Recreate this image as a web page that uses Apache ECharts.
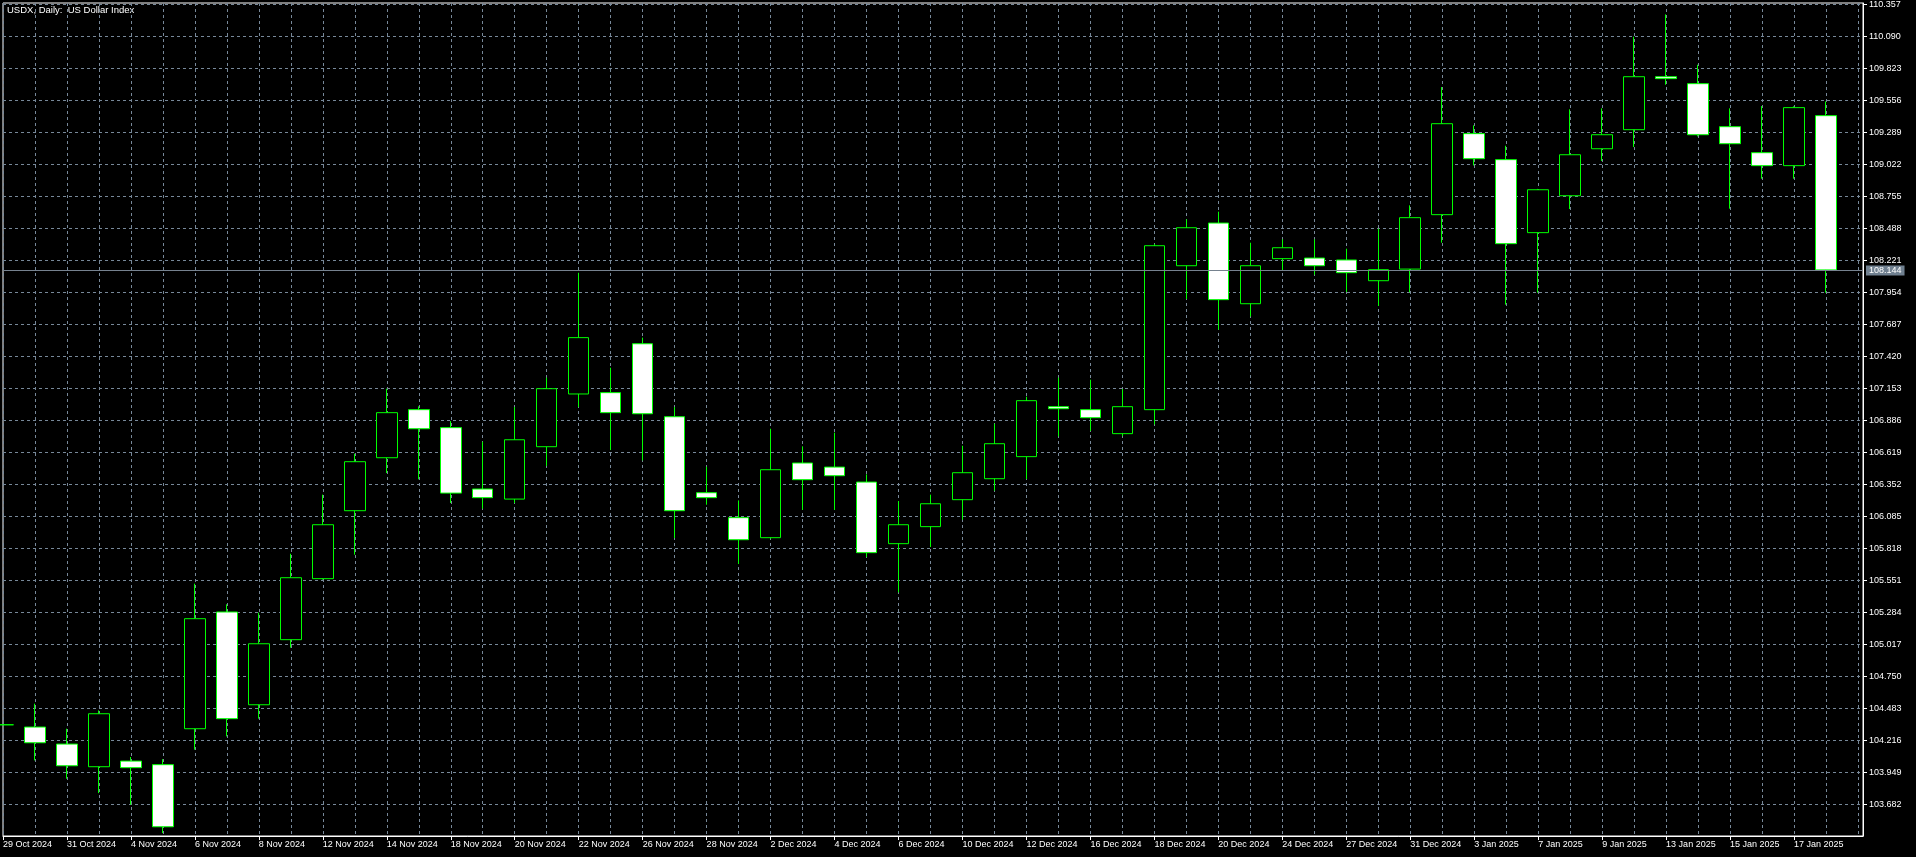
<!DOCTYPE html>
<html><head><meta charset="utf-8">
<script src="https://cdn.jsdelivr.net/npm/echarts@6/dist/echarts.min.js"></script>
<style>html,body{margin:0;padding:0;background:#000;}#c{width:1916px;height:857px;}</style>
</head><body><div id="c"></div>
<script>
const dates = ['29 Oct 2024','30 Oct 2024','31 Oct 2024','1 Nov 2024','4 Nov 2024','5 Nov 2024','6 Nov 2024','7 Nov 2024','8 Nov 2024','11 Nov 2024',
'12 Nov 2024','13 Nov 2024','14 Nov 2024','15 Nov 2024','18 Nov 2024','19 Nov 2024','20 Nov 2024','21 Nov 2024','22 Nov 2024','25 Nov 2024',
'26 Nov 2024','27 Nov 2024','28 Nov 2024','29 Nov 2024','2 Dec 2024','3 Dec 2024','4 Dec 2024','5 Dec 2024','6 Dec 2024','9 Dec 2024',
'10 Dec 2024','11 Dec 2024','12 Dec 2024','13 Dec 2024','16 Dec 2024','17 Dec 2024','18 Dec 2024','19 Dec 2024','20 Dec 2024','23 Dec 2024',
'24 Dec 2024','26 Dec 2024','27 Dec 2024','30 Dec 2024','31 Dec 2024','2 Jan 2025','3 Jan 2025','6 Jan 2025','7 Jan 2025','8 Jan 2025',
'9 Jan 2025','10 Jan 2025','13 Jan 2025','14 Jan 2025','15 Jan 2025','16 Jan 2025','17 Jan 2025','20 Jan 2025'];
const openV = [104.349,104.330,104.188,103.999,104.046,104.016,104.316,105.290,104.516,105.059,
105.568,106.135,106.577,106.978,106.828,106.316,106.232,106.669,107.109,107.120,
107.528,106.919,106.285,106.077,105.910,106.533,106.499,106.374,105.860,106.002,
106.227,106.402,106.586,107.003,106.978,106.778,106.978,108.179,108.535,107.862,
108.238,108.243,108.227,108.054,108.151,108.605,109.281,109.064,108.455,108.763,
109.155,109.314,109.756,109.698,109.339,109.122,109.014,109.431];
const closeV = [104.349,104.199,104.007,104.441,103.991,103.498,105.234,104.400,105.025,105.576,
106.018,106.544,106.953,106.819,106.282,106.244,106.727,107.153,107.579,106.953,
106.944,106.135,106.244,105.893,106.477,106.394,106.427,105.785,106.018,106.193,
106.452,106.694,107.053,106.986,106.911,107.003,108.346,108.496,107.896,108.179,
108.329,108.179,108.121,108.146,108.580,109.364,109.072,108.363,108.813,109.105,
109.272,109.756,109.740,109.272,109.197,109.014,109.498,108.144];
const lowV = [104.349,104.052,103.899,103.779,103.682,103.445,104.141,104.252,104.400,104.992,
105.560,105.768,106.449,106.397,106.199,106.152,106.199,106.508,107.000,106.641,
106.555,105.907,106.185,105.690,105.902,106.141,106.141,105.748,105.454,105.832,
106.060,106.302,106.399,106.755,106.800,106.758,106.855,107.901,107.645,107.756,
108.135,108.104,107.960,107.843,107.957,108.371,109.016,107.854,107.954,108.652,
109.053,109.169,109.689,109.258,108.655,108.905,108.905,107.954];
const highV = [104.349,104.525,104.316,104.469,104.080,104.062,105.526,105.354,105.284,105.776,
106.269,106.611,107.153,107.006,106.883,106.711,107.000,107.245,108.120,107.328,
107.579,107.000,106.502,106.221,106.819,106.672,106.786,106.438,106.216,106.269,
106.677,106.861,107.086,107.245,107.228,107.150,108.360,108.566,108.630,108.371,
108.399,108.399,108.321,108.488,108.683,109.670,109.350,109.180,108.820,109.484,
109.492,110.090,110.276,109.856,109.492,109.511,109.509,109.550];
const xTickLabels = ['29 Oct 2024','31 Oct 2024','4 Nov 2024','6 Nov 2024','8 Nov 2024','12 Nov 2024','14 Nov 2024','18 Nov 2024','20 Nov 2024','22 Nov 2024',
'26 Nov 2024','28 Nov 2024','2 Dec 2024','4 Dec 2024','6 Dec 2024','10 Dec 2024','12 Dec 2024','16 Dec 2024','18 Dec 2024','20 Dec 2024',
'24 Dec 2024','27 Dec 2024','31 Dec 2024','3 Jan 2025','7 Jan 2025','9 Jan 2025','13 Jan 2025','15 Jan 2025','17 Jan 2025'];
const yTicks = [103.682,103.949,104.216,104.483,104.750,105.017,105.284,105.551,105.818,106.085,
106.352,106.619,106.886,107.153,107.420,107.687,107.954,108.221,108.488,108.755,
109.022,109.289,109.556,109.823,110.090,110.357];
const lastPrice = 108.144;
const titleText = 'USDX, Daily:  US Dollar Index';

const FONT = '"Liberation Sans", Arial, sans-serif';
const candles = dates.map((d, i) => [i, openV[i], closeV[i], lowV[i], highV[i]]);
const xTickIdx = xTickLabels.map(l => dates.indexOf(l));
const X_MAX = 58.156;

const chart = echarts.init(document.getElementById('c'), null, {renderer: 'canvas'});
chart.setOption({
  backgroundColor: '#000',
  animation: false,
  grid: {left: 2, right: 53, top: 3, bottom: 21, show: true, borderColor: '#fff', borderWidth: 1, backgroundColor: '#000'},
  xAxis: [{
    type: 'value', min: 0, max: X_MAX, position: 'bottom',
    axisLine: {show: true, onZero: false, lineStyle: {color: '#fff', width: 1}},
    axisTick: {show: true, customValues: xTickIdx, length: 4, lineStyle: {color: '#fff'}},
    axisLabel: {customValues: xTickIdx, formatter: v => dates[Math.round(v)], color: '#fff', fontSize: 9, fontFamily: FONT, align: 'left', margin: 4},
    splitLine: {show: false}
  }, {
    type: 'value', min: 0, max: X_MAX, interval: 1, position: 'bottom',
    axisLine: {show: false}, axisTick: {show: false}, axisLabel: {show: false},
    splitLine: {show: true, lineStyle: {color: '#778899', width: 1, type: [3, 3]}}
  }],
  yAxis: {
    type: 'value', position: 'right', min: 103.421, max: 110.371, scale: true,
    axisLine: {show: true, onZero: false, lineStyle: {color: '#fff', width: 1}},
    axisTick: {show: true, customValues: yTicks, length: 4, lineStyle: {color: '#fff'}},
    axisLabel: {customValues: yTicks, formatter: v => v.toFixed(3), color: '#fff', fontSize: 9, fontFamily: FONT, margin: 6},
    splitLine: {show: true, lineStyle: {color: '#778899', width: 1, type: [3, 3]}}
  },
  series: [{
    type: 'candlestick', xAxisIndex: 0, yAxisIndex: 0, data: candles, barWidth: 21,
    itemStyle: {color: '#000', color0: '#fff', borderColor: '#00ff00', borderColor0: '#00ff00', borderColorDoji: '#00ff00', borderWidth: 1},
    markLine: {
      silent: true, symbol: ['none', 'none'], animation: false,
      lineStyle: {color: '#76828f', width: 1, type: 'solid'},
      label: {show: true, position: 'end', distance: 3, formatter: lastPrice.toFixed(3), backgroundColor: '#708090', color: '#fff', fontSize: 9, fontFamily: FONT, padding: [1, 3, 0, 3]},
      data: [{yAxis: lastPrice}]
    }
  }],
  graphic: [{type: 'text', left: 7, top: 5, style: {text: titleText, fill: '#fff', font: '9.5px ' + FONT}}]
});
</script></body></html>
